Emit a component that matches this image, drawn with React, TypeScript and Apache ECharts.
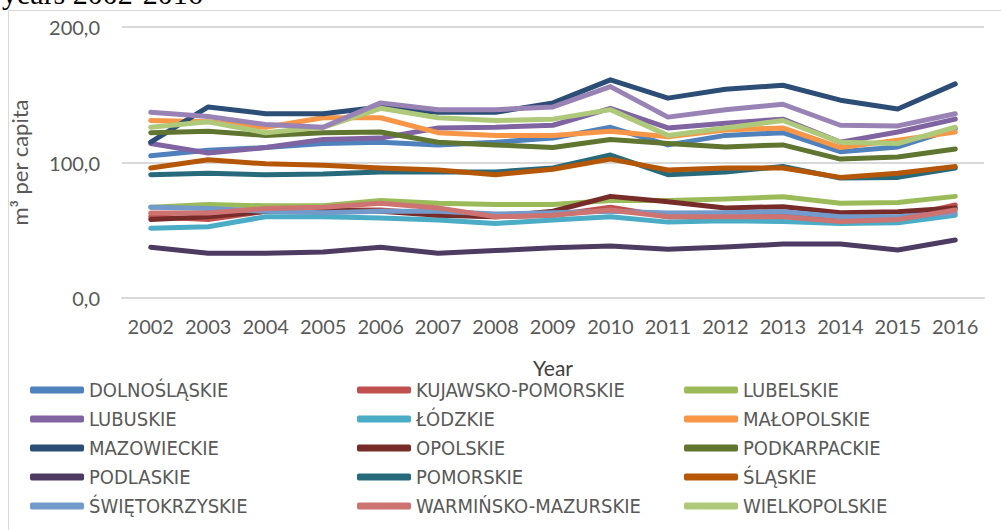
import React, { useEffect, useRef } from "react";
import * as echarts from "echarts";

const years = ["2002","2003","2004","2005","2006","2007","2008","2009","2010","2011","2012","2013","2014","2015","2016"];
const yTicks = [0, 100, 200];

const names = [
  "DOLNOŚLĄSKIE","KUJAWSKO-POMORSKIE","LUBELSKIE","LUBUSKIE","ŁÓDZKIE","MAŁOPOLSKIE",
  "MAZOWIECKIE","OPOLSKIE","PODKARPACKIE","PODLASKIE","POMORSKIE","ŚLĄSKIE",
  "ŚWIĘTOKRZYSKIE","WARMIŃSKO-MAZURSKIE","WIELKOPOLSKIE","ZACHODNIOPOMORSKIE",
];
const colors = [
  "#4F81BD","#C0504D","#9BBB59","#8064A2","#4BACC6","#F79646",
  "#2C4D75","#772C2A","#5F7530","#4D3B62","#276A7C","#B65708",
  "#729ACA","#CD7371","#AFC97A","#9983B5",
];

const dolnoslaskie = [105, 109, 111, 114, 115, 113, 115, 118, 126, 113, 120, 122, 108, 111.5, 125];
const kujawsko = [60, 58, 64, 65, 65, 62, 60, 61, 67, 60, 61, 61, 57, 59, 68.6];
const lubelskie = [67, 69, 68, 68, 72, 70, 69, 69, 72, 72, 73, 74.8, 70, 70.5, 75];
const lubuskie = [114, 107, 111, 117, 118, 125.5, 126, 127.5, 140, 125.5, 129, 132, 115, 122.5, 132];
const lodzkie = [51.5, 52.6, 60, 60, 59, 57.6, 55, 57.6, 60, 56, 57, 56.4, 55, 55.6, 61];
const malopolskie = [131, 130, 126, 133, 133, 122, 120, 120, 123, 119, 124, 125.5, 111, 116.5, 122.5];
const mazowieckie = [115, 141, 136, 136, 141, 137, 137, 144, 161, 147.5, 154, 157, 146, 139.5, 158];
const opolskie = [58, 60, 64, 65, 64, 61, 60, 64, 75, 71, 66.4, 67.4, 63, 63.7, 66.4];
const podkarpackie = [122, 123, 120, 122, 122.5, 115, 113, 111, 117, 114, 111.5, 113, 102.5, 104, 110];
const podlaskie = [37.5, 33, 33, 34, 37.5, 33, 35, 37, 38.4, 36, 37.6, 39.8, 39.8, 35.4, 42.8];
const pomorskie = [91, 92, 91, 91.5, 93, 93, 93, 96, 105.5, 91, 93, 97, 88.5, 89, 96];
const slaskie = [96, 102, 99, 98, 96, 94.5, 91, 95, 102.5, 94.5, 96, 96, 89, 92, 97];
const swietokrzyskie = [67, 66, 64, 63, 64, 64, 62, 63, 64, 62.7, 63, 63.7, 60, 60, 62.7];
const warminsko = [62.7, 62.7, 66, 67, 70, 66.5, 60, 61, 65, 60, 60, 60, 56.4, 58, 65];
const wielkopolskie = [126, 130, 122, 126, 140, 133, 131, 132, 139, 120, 125.5, 131, 115, 114, 126];
const zachodniopomorskie = [137, 134, 128, 126, 144, 139, 139, 141, 156, 133.5, 139, 143, 127.5, 127, 136];

const seriesValues = [
  dolnoslaskie, kujawsko, lubelskie, lubuskie, lodzkie, malopolskie,
  mazowieckie, opolskie, podkarpackie, podlaskie, pomorskie, slaskie,
  swietokrzyskie, warminsko, wielkopolskie, zachodniopomorskie,
];

const legendCols = [
  [names[0], names[3], names[6], names[9], names[12]],
  [names[1], names[4], names[7], names[10], names[13]],
  [names[2], names[5], names[8], names[11], names[14]],
];

export default function App() {
  const ref = useRef<HTMLDivElement>(null);
  useEffect(() => {
    if (!ref.current) return;
    const chart = echarts.init(ref.current, null, { renderer: "svg" });
    const axisFont = "Lato, 'Open Sans', sans-serif";
    const legendLefts = [30, 357, 684];
    chart.setOption({
      animation: false,
      backgroundColor: "#ffffff",
      grid: { left: 120, right: 17, top: 27, bottom: 232 },
      xAxis: {
        type: "category",
        data: years,
        boundaryGap: true,
        axisTick: { show: false },
        axisLine: { lineStyle: { color: "#d9d9d9", width: 2 } },
        axisLabel: { color: "#595959", fontSize: 20, fontFamily: axisFont, margin: 18, interval: 0 },
        name: "Year",
        nameLocation: "middle",
        nameGap: 58,
        nameTextStyle: { color: "#404040", fontSize: 21, fontFamily: axisFont, lineHeight: 22 },
      },
      yAxis: {
        type: "value",
        min: yTicks[0],
        max: yTicks[yTicks.length - 1],
        interval: 100,
        axisLine: { show: false },
        axisTick: { show: false },
        splitLine: { lineStyle: { color: "#d9d9d9", width: 2 } },
        axisLabel: {
          color: "#595959", fontSize: 20, fontFamily: axisFont, margin: 22,
          formatter: (v: number) => v.toFixed(1).replace(".", ","),
        },
        name: "m³ per capita",
        nameLocation: "middle",
        nameGap: 92,
        nameTextStyle: { color: "#595959", fontSize: 22, fontFamily: axisFont },
      },
      legend: legendCols.map((col, i) => ({
        data: col,
        orient: "vertical",
        left: legendLefts[i],
        top: 380,
        itemGap: 9,
        itemWidth: 54,
        itemHeight: 7,
        icon: "roundRect",
        padding: 0,
        textStyle: {
          color: "#595959", fontSize: 20, lineHeight: 20,
          fontFamily: "'Liberation Sans Narrow', 'Arial Narrow', 'DejaVu Sans Condensed', sans-serif",
        },
      })),
      graphic: [
        { type: "line", shape: { x1: 8.5, y1: 10.5, x2: 1001, y2: 10.5 }, style: { stroke: "#d9d9d9", lineWidth: 1 } },
        { type: "line", shape: { x1: 8.5, y1: 10.5, x2: 8.5, y2: 530 }, style: { stroke: "#d9d9d9", lineWidth: 1 } },
        {
          type: "text", left: 2, top: -22,
          style: { text: "years 2002-2016", fill: "#000", fontSize: 30, fontFamily: "'Liberation Serif', serif" },
        },
      ],
      series: names.map((n, i) => ({
        name: n,
        type: "line",
        data: seriesValues[i],
        showSymbol: false,
        symbol: "none",
        color: colors[i],
        lineStyle: { color: colors[i], width: 5, cap: "round", join: "round" },
      })),
    });
    return () => chart.dispose();
  }, []);
  return <div ref={ref} style={{ position: "fixed", left: 0, top: 0, width: 1001, height: 530 }} />;
}
